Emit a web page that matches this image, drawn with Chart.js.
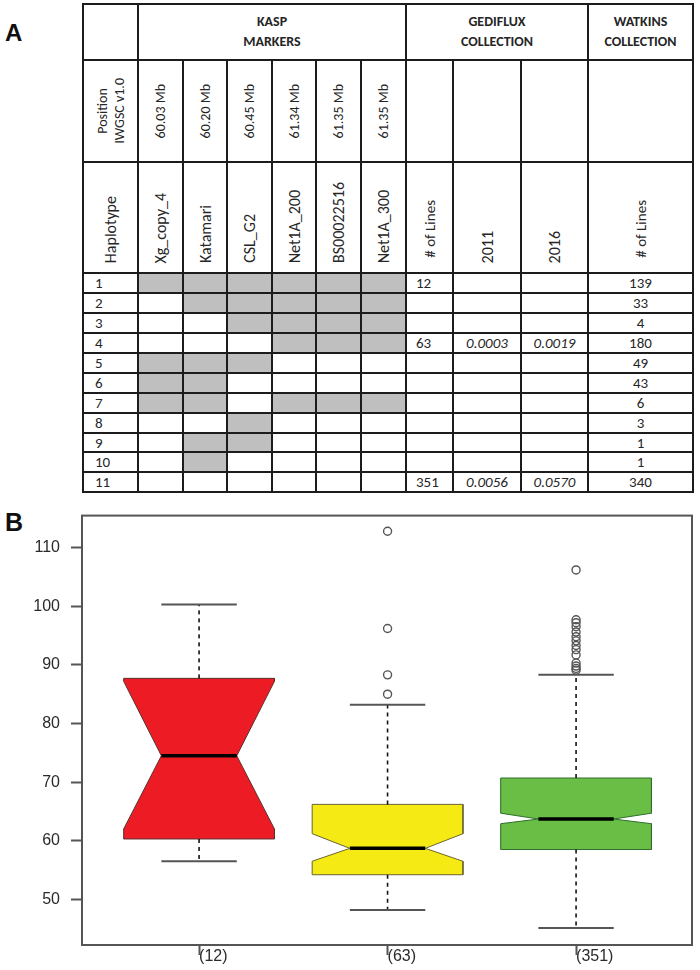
<!DOCTYPE html>
<html>
<head>
<meta charset="utf-8">
<script src="https://cdn.jsdelivr.net/npm/chart.js@4/dist/chart.umd.min.js"></script>
<style>
  html, body { margin: 0; padding: 0; background: #fff; }
  #page { position: relative; width: 700px; height: 970px; overflow: hidden; background: #fff; }
  .panel { position: absolute; font-family: "Liberation Sans", Arial, sans-serif; font-weight: bold; color: #111; }
  .cell { position: absolute; box-sizing: border-box; display: flex; color: #262626;
          font-family: Carlito, Calibri, Lato, "Open Sans", sans-serif; }
  .hline, .vline { position: absolute; background: #1c1c1c; }
  .rot { writing-mode: vertical-rl; transform: rotate(180deg); white-space: nowrap; text-align: center; }
  #chartWrap { position: absolute; left: 0; top: 495px; width: 700px; height: 475px; }
</style>
</head>
<body>
<div id="page">
  <div class="panel" style="left:5px;top:19px;font-size:24px;">A</div>
  <div class="panel" style="left:5px;top:508px;font-size:25px;">B</div>
  <div id="table"></div>
  <div id="chartWrap"><canvas id="c" width="700" height="475"></canvas></div>
</div>
<script>
// ---------------- Table data (panel A) ----------------
const markerNames = ['Xg_copy_4', 'Katamari', 'CSL_G2', 'Net1A_200', 'BS00022516', 'Net1A_300'];
const markerPositions = ['60.03 Mb', '60.20 Mb', '60.45 Mb', '61.34 Mb', '61.35 Mb', '61.35 Mb'];
const haplotypes = ['1', '2', '3', '4', '5', '6', '7', '8', '9', '10', '11'];
const markerShading = [
  [1, 1, 1, 1, 1, 1],
  [0, 1, 1, 1, 1, 1],
  [0, 0, 1, 1, 1, 1],
  [0, 0, 0, 1, 1, 1],
  [1, 1, 1, 0, 0, 0],
  [1, 1, 0, 0, 0, 0],
  [1, 1, 0, 1, 1, 1],
  [0, 0, 1, 0, 0, 0],
  [0, 1, 1, 0, 0, 0],
  [0, 1, 0, 0, 0, 0],
  [0, 0, 0, 0, 0, 0]
];
const gedifluxLines = ['12', '', '', '63', '', '', '', '', '', '', '351'];
const gediflux2011 = ['', '', '', '0.0003', '', '', '', '', '', '', '0.0056'];
const gediflux2016 = ['', '', '', '0.0019', '', '', '', '', '', '', '0.0570'];
const watkinsLines = ['139', '33', '4', '180', '49', '43', '6', '3', '1', '1', '340'];

// ---------------- Boxplot data (panel B) ----------------
const groupLabels = ['(12)', '(63)', '(351)'];
const lowerHinge  = [60.3, 54.2, 58.5];
const medians     = [74.5, 58.7, 63.7];
const upperHinge  = [87.7, 66.2, 70.7];
const notchLower  = [62.0, 56.5, 62.9];
const notchUpper  = [87.2, 61.2, 64.7];
const whiskerLow  = [56.5, 48.2, 45.1];
const whiskerHigh = [100.3, 83.2, 88.3];
const outliers = [
  [],
  [85.0, 88.3, 96.2, 112.8],
  [89.1, 89.4, 89.8, 90.3, 91.7, 92.6, 93.3, 94.1, 94.8, 95.6, 96.5, 97.2, 97.7, 106.2]
];

// ---------------- Build table ----------------
(function buildTable() {
  const root = document.getElementById('table');
  const xs = [83, 138, 183, 227, 272, 316, 361, 406, 453, 521, 588, 693];
  const ys = [4, 60, 162, 273, 293, 313, 333, 353, 373, 393, 413, 433, 452, 472, 492];
  const el = (cls, style, html) => {
    const d = document.createElement('div');
    d.className = cls;
    Object.assign(d.style, style);
    if (html !== undefined) d.innerHTML = html;
    root.appendChild(d);
    return d;
  };
  const cell = (c0, c1, r0, r1, html, extra) => el('cell', Object.assign({
    left: xs[c0] + 'px', top: ys[r0] + 'px',
    width: (xs[c1] - xs[c0]) + 'px', height: (ys[r1] - ys[r0]) + 'px'
  }, extra || {}), html);

  // shading
  markerShading.forEach((row, r) => row.forEach((v, m) => {
    if (v) cell(1 + m, 2 + m, 3 + r, 4 + r, '', { background: '#bfbfbf' });
  }));

  // header row 1
  const h1 = { justifyContent: 'center', alignItems: 'center', textAlign: 'center',
               fontWeight: 'bold', fontSize: '14px', lineHeight: '20px', color: '#262626' };
  cell(1, 7, 0, 1, 'KASP<br>MARKERS', h1);
  cell(7, 10, 0, 1, 'GEDIFLUX<br>COLLECTION', h1);
  cell(10, 11, 0, 1, 'WATKINS<br>COLLECTION', h1);

  // header row 2 (positions)
  const h2 = { justifyContent: 'center', alignItems: 'center', fontSize: '14px', lineHeight: '17px' };
  cell(0, 1, 1, 2, '<span class="rot">Position<br>IWGSC v1.0</span>', h2);
  markerPositions.forEach((p, m) => cell(1 + m, 2 + m, 1, 2, '<span class="rot">' + p + '</span>', h2));

  // header row 3 (names)
  const h3 = { justifyContent: 'center', alignItems: 'flex-end', paddingBottom: '10px', fontSize: '16px' };
  cell(0, 1, 2, 3, '<span class="rot">Haplotype</span>', h3);
  markerNames.forEach((n, m) => cell(1 + m, 2 + m, 2, 3, '<span class="rot">' + n + '</span>', h3));
  cell(7, 8, 2, 3, '<span class="rot"># of Lines</span>', Object.assign({}, h3, { paddingBottom: '15px', fontSize: '15px' }));
  cell(8, 9, 2, 3, '<span class="rot">2011</span>', h3);
  cell(9, 10, 2, 3, '<span class="rot">2016</span>', h3);
  cell(10, 11, 2, 3, '<span class="rot"># of Lines</span>', Object.assign({}, h3, { paddingBottom: '15px', fontSize: '15px' }));

  // data rows
  const d = { alignItems: 'center', fontSize: '15px' };
  haplotypes.forEach((h, r) => {
    cell(0, 1, 3 + r, 4 + r, h, Object.assign({ paddingLeft: '12px' }, d));
    cell(7, 8, 3 + r, 4 + r, gedifluxLines[r], Object.assign({ paddingLeft: '10px' }, d));
    cell(8, 9, 3 + r, 4 + r, gediflux2011[r], Object.assign({ justifyContent: 'center', fontStyle: 'italic' }, d));
    cell(9, 10, 3 + r, 4 + r, gediflux2016[r], Object.assign({ justifyContent: 'center', fontStyle: 'italic' }, d));
    cell(10, 11, 3 + r, 4 + r, watkinsLines[r], Object.assign({ justifyContent: 'center' }, d));
  });

  // grid lines
  const lw = 2;
  ys.forEach(y => el('hline', { left: (xs[0] - 1) + 'px', top: (y - 1) + 'px',
                                width: (xs[11] - xs[0] + 2) + 'px', height: lw + 'px' }));
  const full = [0, 1, 7, 10, 11];
  xs.forEach((x, i) => {
    const top = full.includes(i) ? ys[0] : ys[1];
    el('vline', { left: (x - 1) + 'px', top: (top - 1) + 'px', width: lw + 'px',
                  height: (ys[ys.length - 1] - top + 2) + 'px' });
  });
})();

// ---------------- Build boxplot ----------------
const boxFill   = ['#ed1c24', '#f5ea14', '#6abd45'];
const boxStroke = ['#5a3030', '#6b6530', '#2f6e2f'];
const halfBox = 0.4, halfCap = 0.2;

const datasets = [];
groupLabels.forEach((lab, i) => {
  const c = i + 1;
  const L = c - halfBox, R = c + halfBox, nl = c - halfBox / 2, nr = c + halfBox / 2;
  datasets.push({
    data: [
      { x: L, y: lowerHinge[i] }, { x: L, y: notchLower[i] }, { x: nl, y: medians[i] },
      { x: L, y: notchUpper[i] }, { x: L, y: upperHinge[i] }, { x: R, y: upperHinge[i] },
      { x: R, y: notchUpper[i] }, { x: nr, y: medians[i] }, { x: R, y: notchLower[i] },
      { x: R, y: lowerHinge[i] }, { x: L, y: lowerHinge[i] }
    ],
    showLine: true, fill: 'shape', backgroundColor: boxFill[i], borderColor: boxStroke[i],
    borderWidth: 1, pointRadius: 0, order: 5
  });
  datasets.push({
    data: [{ x: nl, y: medians[i] }, { x: nr, y: medians[i] }],
    showLine: true, borderColor: '#000', borderWidth: 3.5, pointRadius: 0, order: 1
  });
  datasets.push({
    data: [{ x: c, y: upperHinge[i] }, { x: c, y: whiskerHigh[i] }],
    showLine: true, borderColor: '#111', borderWidth: 1.6, borderDash: [4, 4], pointRadius: 0, order: 4
  });
  datasets.push({
    data: [{ x: c, y: lowerHinge[i] }, { x: c, y: whiskerLow[i] }],
    showLine: true, borderColor: '#111', borderWidth: 1.6, borderDash: [4, 4], pointRadius: 0, order: 4
  });
  datasets.push({
    data: [{ x: c - halfCap, y: whiskerHigh[i] }, { x: c + halfCap, y: whiskerHigh[i] }],
    showLine: true, borderColor: '#555', borderWidth: 2, pointRadius: 0, order: 3
  });
  datasets.push({
    data: [{ x: c - halfCap, y: whiskerLow[i] }, { x: c + halfCap, y: whiskerLow[i] }],
    showLine: true, borderColor: '#555', borderWidth: 2, pointRadius: 0, order: 3
  });
  datasets.push({
    data: outliers[i].map(v => ({ x: c, y: v })),
    showLine: false, pointRadius: 4, pointStyle: 'circle', pointBorderWidth: 1.4,
    pointBorderColor: '#555', pointBackgroundColor: 'rgba(0,0,0,0)', order: 0
  });
});

const framePlugin = {
  id: 'frame',
  afterDraw(chart) {
    const { ctx, chartArea: a } = chart;
    ctx.save();
    ctx.strokeStyle = '#555';
    ctx.lineWidth = 2;
    ctx.strokeRect(a.left, a.top, a.right - a.left, a.bottom - a.top);
    ctx.restore();
  }
};

new Chart(document.getElementById('c'), {
  type: 'scatter',
  data: { datasets },
  plugins: [framePlugin],
  options: {
    responsive: false,
    animation: false,
    devicePixelRatio: 1,
    layout: { padding: { top: 8, right: 8, bottom: 0, left: 0 } },
    plugins: { legend: { display: false }, tooltip: { enabled: false } },
    scales: {
      x: {
        type: 'linear', min: 0.379, max: 3.615,
        afterBuildTicks: s => { s.ticks = groupLabels.map((_, i) => ({ value: i + 1 })); },
        afterFit: s => { s.height = 25; },
        border: { display: false },
        grid: { drawOnChartArea: false, drawTicks: true, tickLength: 10, color: 'rgba(0,0,0,0)',
                tickColor: '#555', tickWidth: 2 },
        ticks: {
          autoSkip: false, maxRotation: 0, minRotation: 0, align: 'start', padding: -8,
          color: '#2a2a2a', font: { family: '"Liberation Sans", Arial, sans-serif', size: 16 },
          callback: (v, idx) => groupLabels[idx]
        }
      },
      y: {
        type: 'linear', min: 42.21, max: 115.47,
        afterFit: s => { s.width = 82; },
        border: { display: false },
        grid: { drawOnChartArea: false, drawTicks: true, tickLength: 11, color: 'rgba(0,0,0,0)',
                tickColor: '#555', tickWidth: 2 },
        ticks: {
          stepSize: 10, includeBounds: false, padding: 11,
          color: '#2a2a2a', font: { family: '"Liberation Sans", Arial, sans-serif', size: 16 }
        }
      }
    }
  }
});
</script>
</body>
</html>
